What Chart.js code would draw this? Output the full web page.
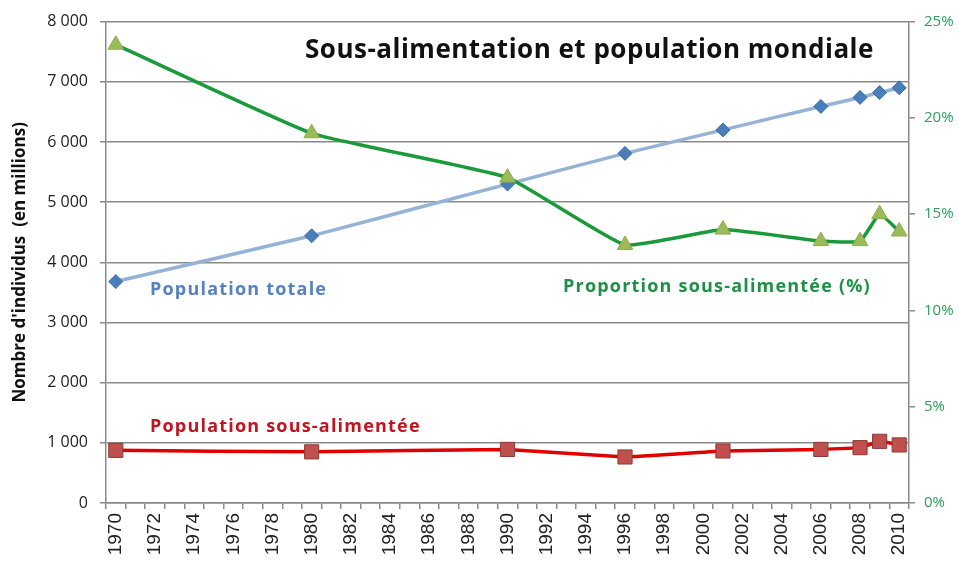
<!DOCTYPE html>
<html lang="fr">
<head>
<meta charset="utf-8">
<title>Sous-alimentation et population mondiale</title>
<script src="https://cdn.jsdelivr.net/npm/chart.js@4/dist/chart.umd.min.js"></script>
<style>
  html, body { margin: 0; padding: 0; background: #fff; }
  #wrap { position: relative; width: 959px; height: 569px; }
</style>
</head>
<body>
<div id="wrap"><canvas id="myChart" width="959" height="569"></canvas></div>
<script>
// données
const years = ['1970', '1980', '1990', '1996', '2001', '2006', '2008', '2009', '2010'];
const popTotale = [3680, 4440, 5300, 5810, 6200, 6590, 6740, 6820, 6900];
const popSousAlim = [875, 850, 890, 765, 865, 890, 920, 1025, 965];
const propSousAlim = [23.8, 19.2, 16.9, 13.4, 14.2, 13.6, 13.6, 15.0, 14.1];

// axe des x : une catégorie par année
const allYears = [];
for (let a = 1970; a <= 2010; a++) allYears.push(String(a));

const leftTicks = [0, 1000, 2000, 3000, 4000, 5000, 6000, 7000, 8000];
const rightTicks = [0, 5, 10, 15, 20, 25];

function toPoints(values) {
  return years.map((y, i) => ({ x: y, y: values[i] }));
}

function fmtMilliers(v) {
  return String(v).replace(/\B(?=(\d{3})+(?!\d))/g, '\u00a0');
}

// textes à l'intérieur du graphique
const textesPlugin = {
  id: 'textes',
  afterDatasetsDraw(chart) {
    const ctx = chart.ctx;
    ctx.save();
    ctx.textBaseline = 'alphabetic';
    ctx.textAlign = 'left';
    ctx.letterSpacing = '0.5px';
    ctx.font = 'bold 26px "Open Sans"';
    ctx.fillStyle = '#111111';
    ctx.fillText('Sous-alimentation et population mondiale', 305, 58);
    ctx.letterSpacing = '1.2px';
    ctx.font = 'bold 18px "Open Sans"';
    ctx.fillStyle = '#5582C2';
    ctx.fillText('Population totale', 150, 295);
    ctx.fillStyle = '#1E9146';
    ctx.fillText('Proportion sous-alimentée (%)', 563, 292);
    ctx.fillStyle = '#C0141E';
    ctx.fillText('Population sous-alimentée', 150, 432);
    ctx.restore();
  }
};

const gris = '#8A8A8A';
const ctx = document.getElementById('myChart');

new Chart(ctx, {
  type: 'line',
  data: {
    labels: allYears,
    datasets: [{
      label: 'Proportion sous-alimentée (%)',
      data: toPoints(propSousAlim),
      yAxisID: 'y1',
      borderColor: '#1A9A3A',
      borderWidth: 3.5,
      tension: 0.12,
      pointStyle: 'triangle',
      pointRadius: 9,
      pointBackgroundColor: '#9BBB59',
      pointBorderColor: '#8DAD4C',
      pointBorderWidth: 1
    }, {
      label: 'Population totale',
      data: toPoints(popTotale),
      yAxisID: 'y',
      borderColor: '#95B3D7',
      borderWidth: 3.5,
      tension: 0.1,
      pointStyle: 'rectRot',
      pointRadius: 7,
      pointBackgroundColor: '#4A7EBB',
      pointBorderColor: '#3D6DA8',
      pointBorderWidth: 1
    }, {
      label: 'Population sous-alimentée',
      data: toPoints(popSousAlim),
      yAxisID: 'y',
      borderColor: '#E00000',
      borderWidth: 3.5,
      tension: 0.05,
      pointStyle: 'rect',
      pointRadius: 10,
      pointBackgroundColor: '#C0504D',
      pointBorderColor: '#8E3B38',
      pointBorderWidth: 1
    }]
  },
  options: {
    responsive: false,
    animation: false,
    spanGaps: true,
    layout: { padding: { top: 19, left: 0, right: 0, bottom: 0 } },
    plugins: {
      legend: { display: false },
      title: { display: false },
      tooltip: { enabled: false }
    },
    scales: {
      x: {
        type: 'category',
        offset: true,
        afterFit(scale) { scale.height = 66; },
        grid: {
          offset: true,
          drawOnChartArea: false,
          drawTicks: true,
          tickLength: 6,
          color: gris,
          lineWidth: 1.5
        },
        border: { display: true, color: gris, width: 1.5 },
        ticks: {
          autoSkip: false,
          maxRotation: 90,
          minRotation: 90,
          padding: 4,
          color: '#222222',
          font: { family: '"Liberation Sans"', size: 19 },
          callback: function (val, index) {
            return index % 2 === 0 ? this.getLabelForValue(val) : '';
          }
        }
      },
      y: {
        position: 'left',
        min: 0,
        max: 8000,
        afterFit(scale) { scale.width = 106; },
        afterBuildTicks(scale) { scale.ticks = leftTicks.map(v => ({ value: v })); },
        grid: { color: gris, lineWidth: 1.5, tickLength: 6 },
        border: { display: true, color: gris, width: 1.5 },
        ticks: {
          padding: 12,
          color: '#222222',
          font: { family: '"Open Sans"', size: 16 },
          callback: v => fmtMilliers(v)
        },
        title: {
          display: true,
          text: "Nombre d'individus  (en millions)",
          color: '#111111',
          font: { family: '"Open Sans"', size: 17, weight: 'bold' },
          padding: { top: 10, bottom: 4 }
        }
      },
      y1: {
        position: 'right',
        min: 0,
        max: 25,
        afterFit(scale) { scale.width = 50; },
        afterBuildTicks(scale) { scale.ticks = rightTicks.map(v => ({ value: v })); },
        grid: { drawOnChartArea: false, color: gris, lineWidth: 1.5, tickLength: 6 },
        border: { display: true, color: gris, width: 1.5 },
        ticks: {
          padding: 9,
          color: '#2E9E5B',
          font: { family: '"Open Sans"', size: 15 },
          callback: v => v + '%'
        }
      }
    }
  },
  plugins: [textesPlugin]
});
</script>
</body>
</html>
